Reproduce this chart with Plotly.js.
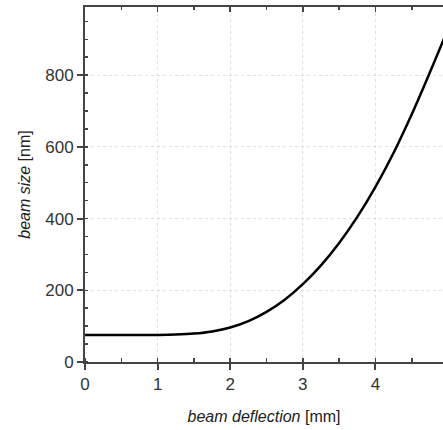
<!DOCTYPE html>
<html><head><meta charset="utf-8">
<script src="https://cdn.plot.ly/plotly-3.0.1.min.js"></script>
<style>html,body{margin:0;padding:0;background:#fff}#chart{width:443px;height:430px}</style>
</head><body><div id="chart"></div>
<script>
// beam deflection [mm]
const deflection = [0, 0.5, 1, 1.25, 1.5, 1.75, 2, 2.25, 2.5, 2.75, 3, 3.25, 3.5, 3.75, 4, 4.25, 4.5, 4.75, 4.95];
// beam size [nm]
const beamSize = [75, 75, 75.4, 76.4, 79.2, 85.2, 96.2, 114, 139.7, 173.8, 217, 269.5, 331.9, 404.6, 488.4, 583.6, 691, 808, 905];
const xTicks = [0, 1, 2, 3, 4];
const yTicks = [0, 200, 400, 600, 800];

const font = {family: 'Liberation Sans, Arial, sans-serif', size: 17, color: '#333'};
const titleFont = {family: 'Liberation Sans, Arial, sans-serif', size: 16, color: '#222'};
const axisCommon = {
  showline: true, linecolor: '#444', linewidth: 2,
  showgrid: true, gridcolor: '#e0e0e0', griddash: 'dot', gridwidth: 1,
  zeroline: false, ticks: 'outside', ticklen: 6, tickwidth: 2, tickcolor: '#444',
  tickfont: font, tickmode: 'array'
};

const data = [
  {x: deflection, y: beamSize, type: 'scatter', mode: 'lines',
   line: {color: '#000', width: 2.5, shape: 'spline'}, hoverinfo: 'skip'},
  {x: [deflection[0]], y: [beamSize[0]], xaxis: 'x2', type: 'scatter', mode: 'markers',
   marker: {opacity: 0}, hoverinfo: 'skip', showlegend: false}
];

const layout = {
  width: 443, height: 430,
  margin: {l: 85, r: 0, t: 7, b: 68},
  paper_bgcolor: '#fff', plot_bgcolor: '#fff',
  showlegend: false,
  font: font,
  xaxis: Object.assign({}, axisCommon, {
    range: [0, 4.93], tickvals: xTicks, ticktext: xTicks.map(String),
    minor: {ticks: 'inside', ticklen: 4, tickwidth: 1.5, tickcolor: '#444', dtick: 0.5, tick0: 0, showgrid: false},
    title: {text: '<i>beam deflection</i> [mm]', font: titleFont, standoff: 17}
  }),
  xaxis2: {
    overlaying: 'x', side: 'top', matches: 'x', range: [0, 4.93],
    showline: true, linecolor: '#444', linewidth: 2, showgrid: false, zeroline: false,
    ticks: 'inside', ticklen: 5, tickwidth: 1.5, tickcolor: '#444',
    tickmode: 'array', tickvals: xTicks, showticklabels: false,
    minor: {ticks: 'inside', ticklen: 3, tickwidth: 1.5, tickcolor: '#444', dtick: 0.5, tick0: 0, showgrid: false}
  },
  yaxis: Object.assign({}, axisCommon, {
    range: [0, 990], tickvals: yTicks, ticktext: yTicks.map(String),
    minor: {ticks: 'inside', ticklen: 3, tickwidth: 1.5, tickcolor: '#444', dtick: 50, tick0: 0, showgrid: false},
    title: {text: '<i>beam size</i> [nm]', font: titleFont, standoff: 11}
  })
};

Plotly.newPlot('chart', data, layout, {displayModeBar: false, staticPlot: true});
</script></body></html>
